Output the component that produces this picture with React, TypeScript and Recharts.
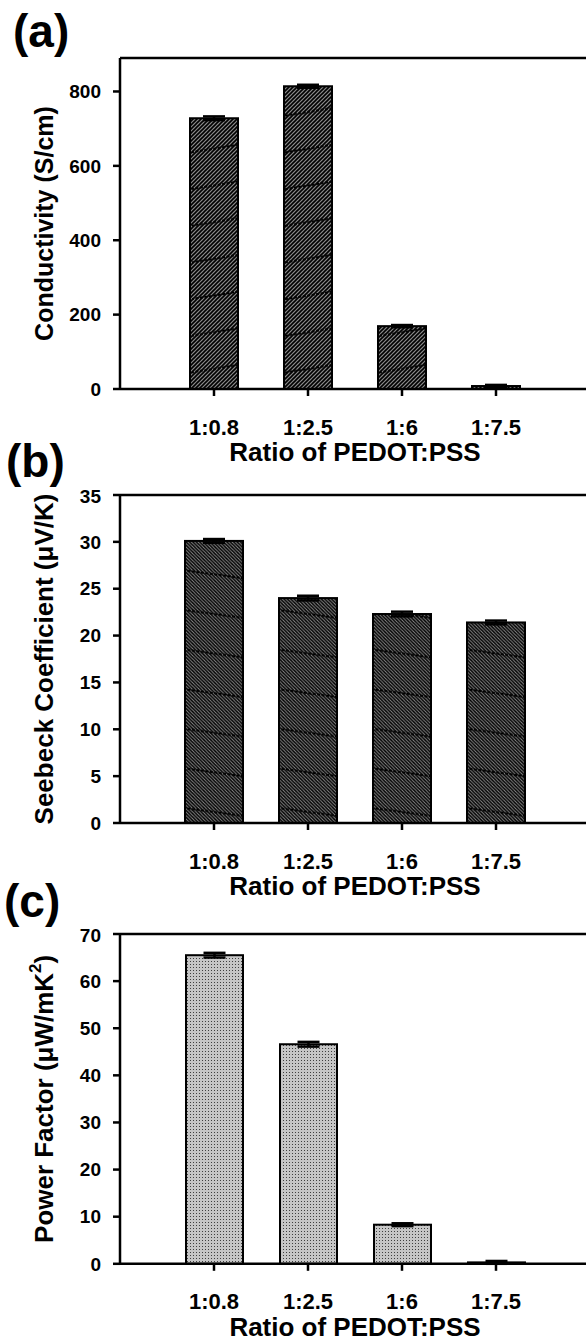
import { BarChart, Bar, XAxis, YAxis, ErrorBar, ReferenceLine, Label } from 'recharts';

// ratio of PEDOT:PSS on the x axis of every panel
const ratios = ['1:0.8', '1:2.5', '1:6', '1:7.5'];

// (a) electrical conductivity, S/cm
const conductivity = [728, 814, 169, 8];
const conductivityErr = [5, 4, 3, 3];
const conductivityTicks = [0, 200, 400, 600, 800];

// (b) Seebeck coefficient, uV/K
const seebeck = [30.1, 24.0, 22.3, 21.4];
const seebeckErr = [0.2, 0.25, 0.25, 0.2];
const seebeckTicks = [0, 5, 10, 15, 20, 25, 30, 35];

// (c) power factor, uW/mK^2
const powerFactor = [65.5, 46.6, 8.3, 0.3];
const powerFactorErr = [0.5, 0.5, 0.3, 0.3];
const powerFactorTicks = [0, 10, 20, 30, 40, 50, 60, 70];

const FONT = '"Liberation Sans", Arial, Helvetica, sans-serif';
const PLOT_LEFT = 120;
const PLOT_W = 470;
const CHART_W = 640;
const PAD_TOP = 10;
const AXIS_H = 90;
const Y_AXIS_W = 60;

type PanelProps = {
  id: string;
  values: number[];
  errors: number[];
  ticks: number[];
  max: number;
  plotTop: number;
  plotH: number;
  barSize: number;
  title: React.ReactNode;
  titleSize: number;
  defs: React.ReactNode;
  fills: string[];
};

function Panel({ id, values, errors, ticks, max, plotTop, plotH, barSize, title, titleSize, defs, fills }: PanelProps) {
  const rows = ratios.map((r, i) => ({ ratio: r, value: values[i], err: errors[i] }));
  const height = PAD_TOP + plotH + AXIS_H;
  const midY = PAD_TOP + plotH / 2;
  const axisY = PAD_TOP + plotH;

  const shape = (p: any) => {
    const { x, y, width, height: h } = p;
    if (!h || h <= 0) return <g />;
    return (
      <g>
        {fills.map((f) => (
          <rect key={f} x={x} y={y} width={width} height={h} fill={`url(#${f})`} />
        ))}
        <rect x={x} y={y} width={width} height={h} fill="none" stroke="#000" strokeWidth={2} />
      </g>
    );
  };

  return (
    <div style={{ position: 'absolute', left: 0, top: plotTop - PAD_TOP }}>
      <BarChart
        width={CHART_W}
        height={height}
        data={rows}
        margin={{ top: PAD_TOP, right: CHART_W - PLOT_LEFT - PLOT_W, bottom: 0, left: PLOT_LEFT - Y_AXIS_W }}
        barSize={barSize}
      >
        <defs>{defs}</defs>
        <XAxis
          dataKey="ratio"
          padding={{ left: 47, right: 47 }}
          height={AXIS_H}
          tickSize={7}
          tickMargin={23}
          axisLine={{ stroke: '#000', strokeWidth: 2.5 }}
          tickLine={{ stroke: '#000', strokeWidth: 2.5 }}
          tick={{ fill: '#000', fontSize: 22, fontWeight: 'bold', fontFamily: FONT }}
        >
          <Label
            content={() => (
              <text
                x={PLOT_LEFT + PLOT_W / 2}
                y={axisY + 72}
                textAnchor="middle"
                fontSize={26}
                fontWeight="bold"
                fontFamily={FONT}
                fill="#000"
              >
                Ratio of PEDOT:PSS
              </text>
            )}
          />
        </XAxis>
        <YAxis
          width={Y_AXIS_W}
          domain={[0, max]}
          ticks={ticks}
          allowDataOverflow
          tickSize={7}
          tickMargin={12}
          axisLine={{ stroke: '#000', strokeWidth: 2.5 }}
          tickLine={{ stroke: '#000', strokeWidth: 2.5 }}
          tick={{ fill: '#000', fontSize: 19, fontWeight: 'bold', fontFamily: FONT }}
        >
          <Label
            content={() => (
              <text
                x={44}
                y={midY}
                transform={`rotate(-90 44 ${midY})`}
                textAnchor="middle"
                dominantBaseline="central"
                fontSize={titleSize}
                fontWeight="bold"
                fontFamily={FONT}
                fill="#000"
              >
                {title}
              </text>
            )}
          />
        </YAxis>
        <ReferenceLine y={max} stroke="#000" strokeWidth={2.5} />
        <Bar dataKey="value" isAnimationActive={false} shape={shape} key={id}>
          <ErrorBar dataKey="err" direction="y" width={11} stroke="#000" strokeWidth={2.5} />
        </Bar>
      </BarChart>
    </div>
  );
}

export default function App() {
  return (
    <div
      style={{
        position: 'absolute',
        left: 0,
        top: 0,
        width: 586,
        height: 1341,
        overflow: 'hidden',
        background: '#fff',
        fontFamily: FONT,
      }}
    >
      <Panel
        id="a"
        values={conductivity}
        errors={conductivityErr}
        ticks={conductivityTicks}
        max={890}
        plotTop={58.3}
        plotH={331}
        barSize={48}
        title="Conductivity (S/cm)"
        titleSize={25}
        fills={['hatchA', 'waveA']}
        defs={
          <>
            <pattern id="hatchA" patternUnits="userSpaceOnUse" width="4" height="4">
              <rect width="4" height="4" fill="#8a8a8a" />
              <path d="M-1,1 l2,-2 M0,4 l4,-4 M3,5 l2,-2" stroke="#000" strokeWidth="1.6" />
            </pattern>
            <pattern id="waveA" patternUnits="userSpaceOnUse" x="3" y="0" width="94" height="36.7">
              <path d="M0,31 L50,23" stroke="#000" strokeWidth="2" strokeDasharray="3 1.5" fill="none" />
            </pattern>
          </>
        }
      />
      <Panel
        id="b"
        values={seebeck}
        errors={seebeckErr}
        ticks={seebeckTicks}
        max={35}
        plotTop={495}
        plotH={328}
        barSize={58}
        title="Seebeck Coefficient (μV/K)"
        titleSize={26}
        fills={['hatchB', 'waveB']}
        defs={
          <>
            <pattern id="hatchB" patternUnits="userSpaceOnUse" width="3.4" height="3.4">
              <rect width="3.4" height="3.4" fill="#8a8a8a" />
              <path d="M-1,-1 l5.4,5.4 M-1,2.4 l2,2 M2.4,-1 l2,2" stroke="#000" strokeWidth="1.4" />
            </pattern>
            <pattern id="waveB" patternUnits="userSpaceOnUse" x="89" y="0" width="94" height="39.6">
              <path d="M0,6 L60,14" stroke="#000" strokeWidth="2" strokeDasharray="3 1.5" fill="none" />
            </pattern>
          </>
        }
      />
      <Panel
        id="c"
        values={powerFactor}
        errors={powerFactorErr}
        ticks={powerFactorTicks}
        max={70}
        plotTop={933.5}
        plotH={329.8}
        barSize={57}
        title={
          <>
            Power Factor (μW/mK<tspan dy={-9} fontSize={17}>2</tspan>
            <tspan dy={9}>)</tspan>
          </>
        }
        titleSize={26}
        fills={['dotC']}
        defs={
          <pattern id="dotC" patternUnits="userSpaceOnUse" width="3" height="3">
            <rect width="3" height="3" fill="#c6c6c6" />
            <rect x="1" y="1" width="1" height="1" fill="#404040" />
          </pattern>
        }
      />
      <svg
        width={586}
        height={1341}
        style={{ position: 'absolute', left: 0, top: 0, pointerEvents: 'none' }}
      >
        <text x={13} y={47} fontSize={46} fontWeight="bold" fontFamily={FONT} fill="#000">(a)</text>
        <text x={6} y={477} fontSize={46} fontWeight="bold" fontFamily={FONT} fill="#000">(b)</text>
        <text x={4} y={917} fontSize={46} fontWeight="bold" fontFamily={FONT} fill="#000">(c)</text>
      </svg>
    </div>
  );
}
